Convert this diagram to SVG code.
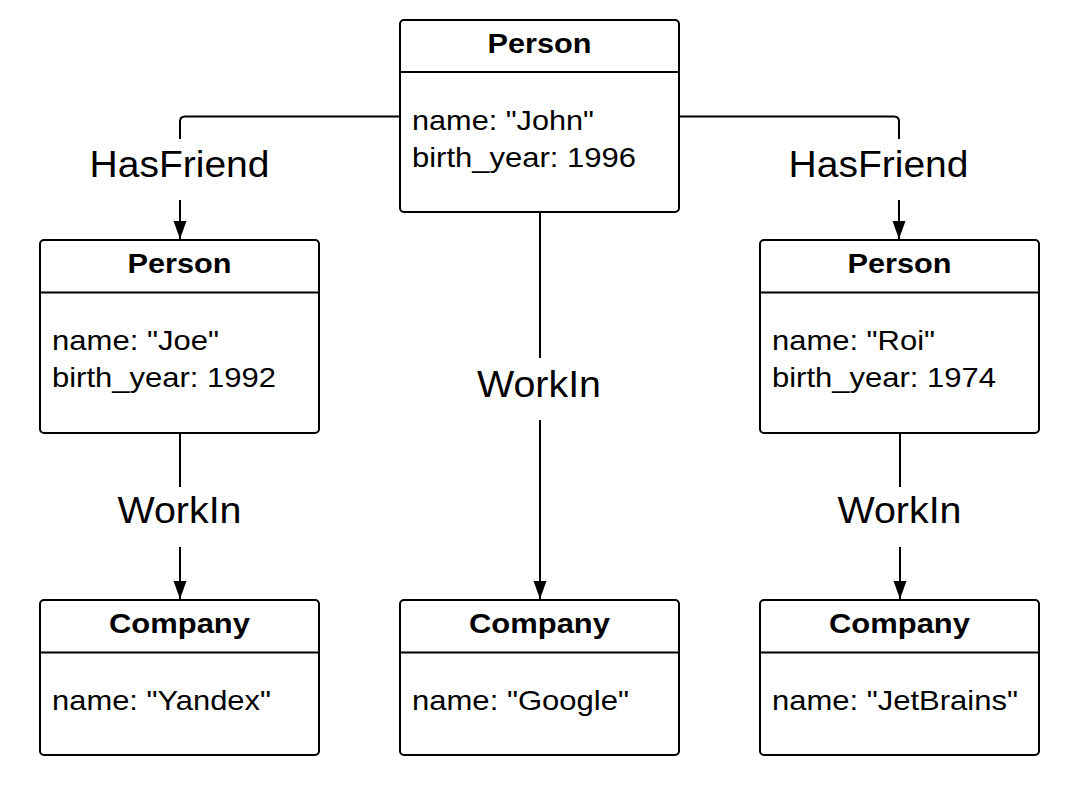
<svg xmlns="http://www.w3.org/2000/svg" width="1089" height="805" viewBox="0 0 1089 805">
<style>
  .box{fill:#fff;stroke:#000;stroke-width:2}
  .sep{stroke:#000;stroke-width:2}
  .title{font-family:"Liberation Sans",Arial,sans-serif;font-weight:bold;font-size:27px;text-anchor:middle;fill:#000}
  .body{font-family:"Liberation Sans",Arial,sans-serif;font-size:28px;fill:#000}
  .lbl{font-family:"Liberation Sans",Arial,sans-serif;font-size:37px;text-anchor:middle;fill:#000}
  .conn{fill:none;stroke:#000;stroke-width:2}
</style>
<defs>
  <marker id="arr" markerUnits="userSpaceOnUse" markerWidth="20" markerHeight="14" refX="18" refY="6.5" orient="auto">
    <path d="M0,0 L18,6.5 L0,13 Z" fill="#000"/>
  </marker>
</defs>
<rect width="1089" height="805" fill="#fff"/>
<g id="connectors">
  <path class="conn" d="M400,116.5 H185 Q180,116.5 180,121.5 V139"/>
  <path class="conn" d="M180,200 V239" marker-end="url(#arr)"/>
  <text class="lbl" x="179.5" y="177" textLength="180" lengthAdjust="spacingAndGlyphs">HasFriend</text>
  <path class="conn" d="M679,116.5 H894 Q899,116.5 899,121.5 V139"/>
  <path class="conn" d="M899,200 V239" marker-end="url(#arr)"/>
  <text class="lbl" x="878.5" y="177" textLength="180" lengthAdjust="spacingAndGlyphs">HasFriend</text>
  <path class="conn" d="M540,212 V358"/>
  <path class="conn" d="M540,420 V599" marker-end="url(#arr)"/>
  <text class="lbl" x="539" y="397" textLength="124" lengthAdjust="spacingAndGlyphs">WorkIn</text>
  <path class="conn" d="M180,433 V487"/>
  <path class="conn" d="M180,547 V599" marker-end="url(#arr)"/>
  <text class="lbl" x="179.5" y="523" textLength="124" lengthAdjust="spacingAndGlyphs">WorkIn</text>
  <path class="conn" d="M900,433 V487"/>
  <path class="conn" d="M900,547 V599" marker-end="url(#arr)"/>
  <text class="lbl" x="899.5" y="523" textLength="124" lengthAdjust="spacingAndGlyphs">WorkIn</text>
</g>
<g id="person-john">
  <rect class="box" x="400" y="20" width="279" height="192" rx="4"/>
  <line class="sep" x1="400" y1="72" x2="679" y2="72"/>
  <text class="title" x="539.5" y="53" textLength="104" lengthAdjust="spacingAndGlyphs">Person</text>
  <text class="body" x="412" y="130" textLength="182" lengthAdjust="spacingAndGlyphs">name: "John"</text>
  <text class="body" x="412" y="167" textLength="224" lengthAdjust="spacingAndGlyphs">birth_year: 1996</text>
</g>
<g id="person-joe">
  <rect class="box" x="40" y="240" width="279" height="193" rx="4"/>
  <line class="sep" x1="40" y1="292.5" x2="319" y2="292.5"/>
  <text class="title" x="179.5" y="273" textLength="104" lengthAdjust="spacingAndGlyphs">Person</text>
  <text class="body" x="52" y="350" textLength="167" lengthAdjust="spacingAndGlyphs">name: "Joe"</text>
  <text class="body" x="52" y="387" textLength="224" lengthAdjust="spacingAndGlyphs">birth_year: 1992</text>
</g>
<g id="person-roi">
  <rect class="box" x="760" y="240" width="279" height="193" rx="4"/>
  <line class="sep" x1="760" y1="292.5" x2="1039" y2="292.5"/>
  <text class="title" x="899.5" y="273" textLength="104" lengthAdjust="spacingAndGlyphs">Person</text>
  <text class="body" x="772" y="350" textLength="163" lengthAdjust="spacingAndGlyphs">name: "Roi"</text>
  <text class="body" x="772" y="387" textLength="224" lengthAdjust="spacingAndGlyphs">birth_year: 1974</text>
</g>
<g id="company-yandex">
  <rect class="box" x="40" y="600" width="279" height="155" rx="4"/>
  <line class="sep" x1="40" y1="652.5" x2="319" y2="652.5"/>
  <text class="title" x="179.5" y="633" textLength="141" lengthAdjust="spacingAndGlyphs">Company</text>
  <text class="body" x="52" y="710" textLength="219" lengthAdjust="spacingAndGlyphs">name: "Yandex"</text>
</g>
<g id="company-google">
  <rect class="box" x="400" y="600" width="279" height="155" rx="4"/>
  <line class="sep" x1="400" y1="652.5" x2="679" y2="652.5"/>
  <text class="title" x="539.5" y="633" textLength="141" lengthAdjust="spacingAndGlyphs">Company</text>
  <text class="body" x="412" y="710" textLength="217" lengthAdjust="spacingAndGlyphs">name: "Google"</text>
</g>
<g id="company-jetbrains">
  <rect class="box" x="760" y="600" width="279" height="155" rx="4"/>
  <line class="sep" x1="760" y1="652.5" x2="1039" y2="652.5"/>
  <text class="title" x="899.5" y="633" textLength="141" lengthAdjust="spacingAndGlyphs">Company</text>
  <text class="body" x="772" y="710" textLength="246" lengthAdjust="spacingAndGlyphs">name: "JetBrains"</text>
</g>
</svg>
